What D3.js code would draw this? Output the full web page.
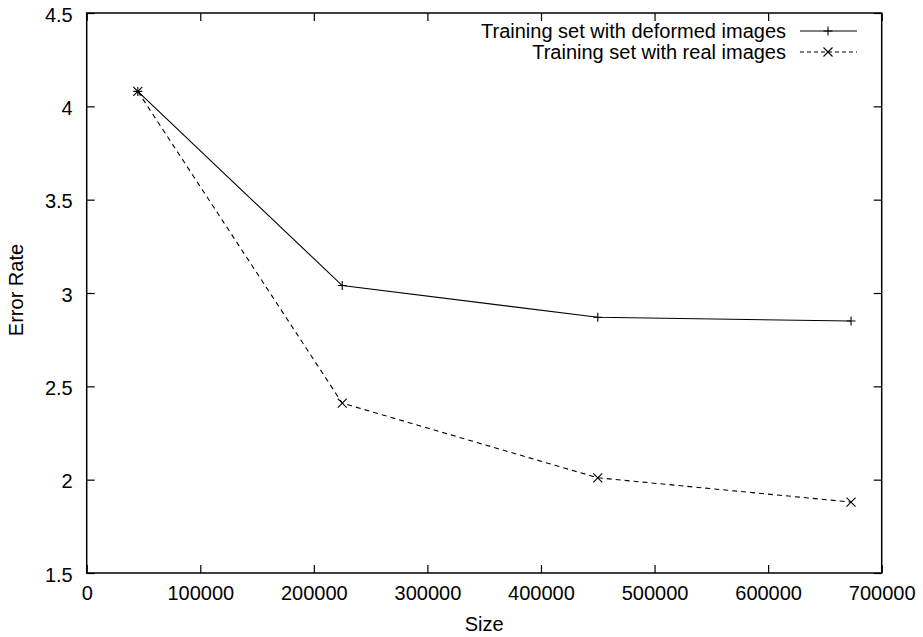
<!DOCTYPE html>
<html>
<head>
<meta charset="utf-8">
<script src="https://cdn.jsdelivr.net/npm/d3@7"></script>
<style>
    body { margin: 0; background: #fff; }
    svg { display: block; font-family: "Liberation Sans", Arial, sans-serif; }
    text { fill: #000; }
</style>
</head>
<body>
<div id="chart"></div>
<script>
// Values
const sizes = [45000, 225000, 450000, 673000];
const deformedErr = [4.08, 3.04, 2.87, 2.85];
const realErr = [4.08, 2.41, 2.01, 1.88];
const seriesNames = ["Training set with deformed images", "Training set with real images"];
const xTicks = [0, 100000, 200000, 300000, 400000, 500000, 600000, 700000];
const yTicks = [1.5, 2, 2.5, 3, 3.5, 4, 4.5];
const xLabel = "Size";
const yLabel = "Error Rate";

const width = 923, height = 637;
const margin = { top: 13, right: 41.3, bottom: 64, left: 86.7 };
const innerW = width - margin.left - margin.right;
const innerH = height - margin.top - margin.bottom;
const fontSize = "20px";

const svg = d3.select("#chart").append("svg")
    .attr("width", width)
    .attr("height", height);

const g = svg.append("g")
    .attr("transform", `translate(${margin.left},${margin.top})`);

const x = d3.scaleLinear().domain([0, 700000]).range([0, innerW]);
const y = d3.scaleLinear().domain([1.5, 4.5]).range([innerH, 0]);

const tickLen = 8;

// Axes: labels outside, ticks drawn inward (mirrored on all four sides)
const styleAxis = sel => {
    sel.select(".domain").remove();
    sel.selectAll(".tick line").attr("stroke", "#000").attr("stroke-width", 1.2);
    sel.selectAll(".tick text")
        .style("font-size", fontSize)
        .style("font-family", "'Liberation Sans', Arial, sans-serif");
};

g.append("g")
    .attr("transform", `translate(0,${innerH})`)
    .call(d3.axisBottom(x).tickValues(xTicks).tickFormat(d3.format("d"))
        .tickSizeInner(-tickLen).tickSizeOuter(0).tickPadding(13))
    .call(styleAxis);

g.append("g")
    .call(d3.axisTop(x).tickValues(xTicks).tickFormat("")
        .tickSizeInner(-tickLen).tickSizeOuter(0))
    .call(styleAxis);

g.append("g")
    .call(d3.axisLeft(y).tickValues(yTicks).tickFormat(d3.format("~g"))
        .tickSizeInner(-tickLen).tickSizeOuter(0).tickPadding(14))
    .call(styleAxis)
    .call(a => a.selectAll(".tick text").attr("dy", "0.4em"));

g.append("g")
    .attr("transform", `translate(${innerW},0)`)
    .call(d3.axisRight(y).tickValues(yTicks).tickFormat("")
        .tickSizeInner(-tickLen).tickSizeOuter(0))
    .call(styleAxis);

// Frame
g.append("rect")
    .attr("width", innerW)
    .attr("height", innerH)
    .attr("fill", "none")
    .attr("stroke", "#000")
    .attr("stroke-width", 1.5);

// Axis titles
svg.append("text")
    .attr("transform", `translate(23,${margin.top + innerH / 2 - 3}) rotate(-90)`)
    .attr("text-anchor", "middle")
    .style("font-size", fontSize)
    .text(yLabel);

svg.append("text")
    .attr("x", margin.left + innerW / 2)
    .attr("y", 631)
    .attr("text-anchor", "middle")
    .style("font-size", fontSize)
    .text(xLabel);

// Markers
const plusPath = (cx, cy, r) => `M${cx - r},${cy}H${cx + r}M${cx},${cy - r}V${cy + r}`;
const crossPath = (cx, cy, r) => `M${cx - r},${cy - r}L${cx + r},${cy + r}M${cx - r},${cy + r}L${cx + r},${cy - r}`;

const series = [
    { name: seriesNames[0], values: deformedErr, dash: null, marker: plusPath },
    { name: seriesNames[1], values: realErr, dash: "5,4", marker: crossPath }
];

const line = d3.line()
    .x(d => x(d[0]))
    .y(d => y(d[1]));

series.forEach(s => {
    const pts = sizes.map((v, i) => [v, s.values[i]]);
    g.append("path")
        .datum(pts)
        .attr("fill", "none")
        .attr("stroke", "#000")
        .attr("stroke-width", 1.1)
        .attr("stroke-dasharray", s.dash)
        .attr("d", line);

    g.selectAll(null)
        .data(pts)
        .enter().append("path")
        .attr("fill", "none")
        .attr("stroke", "#000")
        .attr("stroke-width", 1.1)
        .attr("d", d => s.marker(x(d[0]), y(d[1]), 4.5));
});

// Legend (top right, gnuplot style: text right-aligned, sample to the right)
const legend = svg.append("g");
series.forEach((s, i) => {
    const ly = 31 + i * 21;
    legend.append("text")
        .attr("x", 786)
        .attr("y", ly)
        .attr("dy", "0.35em")
        .attr("text-anchor", "end")
        .style("font-size", fontSize)
        .text(s.name);
    legend.append("line")
        .attr("x1", 800).attr("x2", 857)
        .attr("y1", ly).attr("y2", ly)
        .attr("stroke", "#000")
        .attr("stroke-width", 1.1)
        .attr("stroke-dasharray", s.dash ? "4,3" : null);
    legend.append("path")
        .attr("fill", "none")
        .attr("stroke", "#000")
        .attr("stroke-width", 1.1)
        .attr("d", s.marker(828, ly, 4.5));
});
</script>
</body>
</html>
